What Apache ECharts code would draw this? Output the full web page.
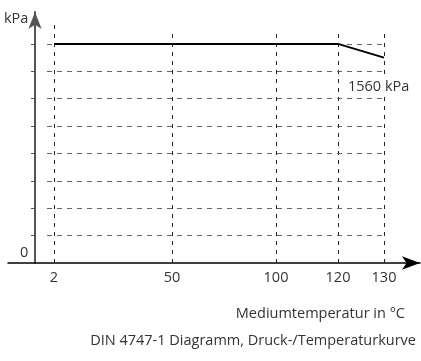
<!DOCTYPE html>
<html><head><meta charset="utf-8">
<script src="https://cdn.jsdelivr.net/npm/echarts@6/dist/echarts.min.js"></script>
<style>html,body{margin:0;padding:0;background:#fff}#c{width:421px;height:361px}</style>
</head><body><div id="c"></div>
<script>
// ---- data ----
const tempTicks = [2, 50, 100, 120, 130];          // °C tick labels on the x axis
const curveTemps = [2, 120, 130];                   // °C
const curvePressure = [1600, 1600, 1500];           // kPa (schematic)
const gridPressures = [200, 400, 600, 800, 1000, 1200, 1400, 1600];
const endLabel = '1560 kPa';
const yUnit = 'kPa';
const zeroLabel = '0';
const xTitle = 'Mediumtemperatur in °C';
const caption = 'DIN 4747-1 Diagramm, Druck-/Temperaturkurve';

// ---- schematic (non-linear) x-axis layout ----
const tickSlots = [19, 137, 241, 303, 349];
function toAxis(t) {
  for (let i = 0; i < tempTicks.length - 1; i++) {
    const a = tempTicks[i], b = tempTicks[i + 1];
    if (t <= b || i === tempTicks.length - 2) {
      return tickSlots[i] + (t - a) / (b - a) * (tickSlots[i + 1] - tickSlots[i]);
    }
  }
}
const FONT = '"Open Sans", "Noto Sans", sans-serif';
const FS = 14.5;
const yTopVert = 1690, yTopFirst = 1750, hStart = 12;

const chart = echarts.init(document.getElementById('c'), null, {renderer: 'canvas'});
const vLines = tempTicks.map((t, i) => [
  {coord: [toAxis(t), 0]}, {coord: [toAxis(t), i === 0 ? yTopFirst : yTopVert]}
]);
const hLines = gridPressures.map(p => [
  {coord: [hStart, p]}, {coord: [toAxis(tempTicks[tempTicks.length - 1]), p]}
]);

chart.setOption({
  animation: false,
  grid: {left: 8, right: 1, top: 12, bottom: 98, containLabel: false},
  xAxis: {
    type: 'value', min: -27, max: 385,
    splitLine: {show: false},
    axisLine: {onZero: true, lineStyle: {color: '#000', width: 1.5}, symbol: ['none', 'arrow'], symbolSize: [10, 18]},
    axisTick: {show: false},
    axisLabel: {
      customValues: tempTicks.map(toAxis),
      formatter: v => { const i = tickSlots.findIndex(s => Math.abs(s - v) < 0.5); return i >= 0 ? String(tempTicks[i]) : ''; },
      color: '#333', fontFamily: FONT, fontSize: FS, margin: 7
    }
  },
  yAxis: {
    type: 'value', min: 0, max: 1833,
    splitLine: {show: false},
    axisLine: {onZero: true, lineStyle: {color: '#555', width: 2}, symbol: ['none', 'arrow'], symbolSize: [10, 17]},
    axisTick: {show: true, customValues: gridPressures, length: 4, lineStyle: {color: '#555', width: 1}},
    axisLabel: {show: false}
  },
  series: [
    {
      type: 'line', silent: true, symbol: 'none',
      data: [],
      markLine: {
        silent: true, symbol: 'none', label: {show: false},
        lineStyle: {color: '#222', type: [4, 5], width: 1},
        data: vLines
      }
    },
    {
      type: 'line', silent: true, symbol: 'none',
      data: [],
      markLine: {
        silent: true, symbol: 'none', label: {show: false},
        lineStyle: {color: '#666', type: [5, 5], width: 1},
        data: hLines
      }
    },
    {
      type: 'line', silent: true, symbol: 'none', z: 5,
      lineStyle: {color: '#000', width: 2},
      data: curveTemps.map((t, i) => [toAxis(t), curvePressure[i]])
    }
  ],
  graphic: [
    {type: 'text', left: 4, top: 11, style: {text: yUnit, font: FS + 'px ' + FONT, fill: '#333'}},
    {type: 'text', left: 20, top: 245, style: {text: zeroLabel, font: FS + 'px ' + FONT, fill: '#333'}},
    {type: 'text', left: 347, top: 78, z: 10, style: {text: endLabel, font: FS + 'px ' + FONT, fill: '#333', backgroundColor: '#fff', padding: [1, 1]}},
    {type: 'text', right: 16, top: 306, style: {text: xTitle, font: FS + 'px ' + FONT, fill: '#333'}},
    {type: 'text', right: 5, top: 333, style: {text: caption, font: FS + 'px ' + FONT, fill: '#333'}}
  ]
});
</script></body></html>
